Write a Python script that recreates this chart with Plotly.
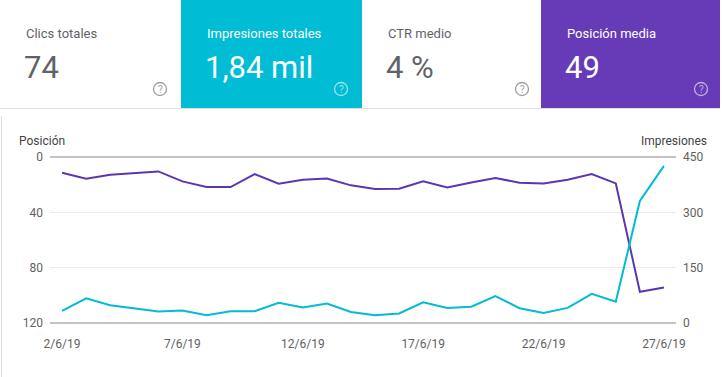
import plotly.graph_objects as go
import pandas as pd

W, H = 724, 377

dates = pd.date_range("2019-06-02", "2019-06-27", freq="D")
position = [11.4, 15.7, 12.8, 11.6, 10.4, 17.6, 21.7, 21.7, 12.3, 19.3, 16.4, 15.5, 20.5,
            23.2, 23.0, 17.6, 22.0, 18.4, 15.2, 18.6, 19.1, 16.4, 12.3, 19.1, 97.4, 94.3]
impressions = [33, 67, 48, 40, 31, 34, 21, 32, 32, 55, 42, 53, 30,
               21, 26, 56, 41, 44, 73, 40, 27, 41, 79, 58, 331, 426]

card_labels = ["Clics totales", "Impresiones totales", "CTR medio", "Posición media"]
card_values = ["74", "1,84 mil", "4 %", "49"]
card_bg = ["#ffffff", "#00bcd4", "#ffffff", "#673ab7"]
card_fg = ["#5f6368", "#ffffff", "#5f6368", "#ffffff"]
card_x = [0, 181, 362, 541, 720]

pos_ticks = [0, 40, 80, 120]
imp_ticks = [0, 150, 300, 450]
x_ticks = ["2019-06-02", "2019-06-07", "2019-06-12", "2019-06-17", "2019-06-22", "2019-06-27"]
x_tick_text = ["2/6/19", "7/6/19", "12/6/19", "17/6/19", "22/6/19", "27/6/19"]

PURPLE_LINE = "#5e35b1"
CYAN_LINE = "#00bcd4"

def px(x):
    return x / W

def py(y):
    return 1 - y / H

fig = go.Figure()
fig.add_trace(go.Scatter(x=dates, y=position, mode="lines", yaxis="y",
                         line=dict(color=PURPLE_LINE, width=2), name="Posición"))
fig.add_trace(go.Scatter(x=dates, y=impressions, mode="lines", yaxis="y2",
                         line=dict(color=CYAN_LINE, width=2), name="Impresiones"))

shapes = []
annotations = []
FONT = "Roboto"

for i in range(4):
    x0, x1 = card_x[i], card_x[i + 1]
    shapes.append(dict(type="rect", xref="paper", yref="paper",
                       x0=px(x0), x1=px(x1), y0=py(108), y1=py(0),
                       fillcolor=card_bg[i], line=dict(width=0), layer="below"))
    annotations.append(dict(text=card_labels[i], xref="paper", yref="paper",
                            x=px(x0 + 24), y=py(33), xanchor="left", yanchor="middle",
                            showarrow=False, font=dict(family=FONT, size=13, color=card_fg[i])))
    annotations.append(dict(text=card_values[i], xref="paper", yref="paper",
                            x=px(x0 + 22), y=py(67), xanchor="left", yanchor="middle",
                            showarrow=False, font=dict(family=FONT, size=31, color=card_fg[i])))
    icol = "#9e9e9e" if card_bg[i] == "#ffffff" else "rgba(255,255,255,0.6)"
    cx, cy, r = x0 + 160, 89, 6.5
    shapes.append(dict(type="circle", xref="paper", yref="paper",
                       x0=px(cx - r), x1=px(cx + r), y0=py(cy + r), y1=py(cy - r),
                       line=dict(color=icol, width=1.3)))
    annotations.append(dict(text="?", xref="paper", yref="paper",
                            x=px(cx), y=py(cy + 0.5), xanchor="center", yanchor="middle",
                            showarrow=False, font=dict(family=FONT, size=10, color=icol)))

shapes.append(dict(type="line", xref="paper", yref="paper",
                   x0=0, x1=px(720), y0=py(108.5), y1=py(108.5),
                   line=dict(color="#e0e0e0", width=1)))
shapes.append(dict(type="line", xref="paper", yref="paper",
                   x0=px(1.5), x1=px(1.5), y0=0, y1=py(116),
                   line=dict(color="#e0e0e0", width=1)))

for yy in (157, 323):
    shapes.append(dict(type="line", xref="paper", yref="paper",
                       x0=px(50), x1=px(676), y0=py(yy), y1=py(yy),
                       line=dict(color="#888888", width=1), layer="below"))

annotations.append(dict(text="Posición", xref="paper", yref="paper",
                        x=px(17), y=py(141), xanchor="left", yanchor="middle",
                        showarrow=False, font=dict(family=FONT, size=12, color="#424242")))
annotations.append(dict(text="Impresiones", xref="paper", yref="paper",
                        x=px(709), y=py(141), xanchor="right", yanchor="middle",
                        showarrow=False, font=dict(family=FONT, size=12, color="#424242")))

tick_font = dict(family=FONT, size=12, color="#616161")

fig.update_layout(
    width=W, height=H,
    margin=dict(l=0, r=0, t=0, b=0, autoexpand=False),
    paper_bgcolor="#ffffff", plot_bgcolor="#ffffff",
    showlegend=False,
    shapes=shapes, annotations=annotations,
    xaxis=dict(domain=[px(50), px(676)],
               range=[pd.Timestamp("2019-06-01 12:00"), pd.Timestamp("2019-06-27 12:00")],
               tickvals=x_ticks, ticktext=x_tick_text, tickfont=tick_font,
               showgrid=False, zeroline=False, showline=False, ticks="",
               anchor="y", ticklabelstandoff=12, automargin=False),
    yaxis=dict(domain=[py(323), py(157)], range=[120, 0], tickvals=pos_ticks,
               tickfont=tick_font, gridcolor="#ebebeb", zeroline=False,
               showline=False, ticks="", ticklabelstandoff=6, automargin=False),
    yaxis2=dict(overlaying="y", side="right", range=[0, 450], tickvals=imp_ticks,
                tickfont=tick_font, showgrid=False, zeroline=False,
                showline=False, ticks="", ticklabelstandoff=6, automargin=False),
)

fig.write_html(
    "out.html",
    config={"displayModeBar": False},
    post_script="document.body.style.margin='0';document.body.style.overflow='hidden';",
)
